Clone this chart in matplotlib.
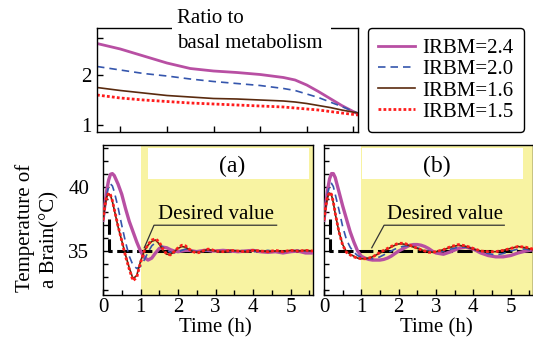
import matplotlib
matplotlib.use('Agg')
import matplotlib.pyplot as plt
from matplotlib.patches import Rectangle
from matplotlib.ticker import MultipleLocator, FixedLocator

plt.rcParams['font.family'] = ['Liberation Serif', 'DejaVu Serif']
plt.rcParams['font.size'] = 15

# ---------------- data ----------------
labels = ['IRBM=2.4', 'IRBM=2.0', 'IRBM=1.6', 'IRBM=1.5']

# top panel: ratio to basal metabolism
t_ratio = [0, 0.5, 1.0, 1.5, 2.0, 2.5, 3.0, 3.5, 4.0, 4.25, 4.5, 4.75, 5.0, 5.25, 5.6]
ratio_24 = [2.63, 2.52, 2.38, 2.24, 2.13, 2.08, 2.05, 2.01, 1.95, 1.90, 1.80, 1.67, 1.53, 1.39, 1.22]
ratio_20 = [2.17, 2.10, 2.03, 1.98, 1.92, 1.87, 1.83, 1.79, 1.73, 1.69, 1.62, 1.55, 1.46, 1.37, 1.24]
ratio_16 = [1.75, 1.69, 1.64, 1.59, 1.56, 1.53, 1.52, 1.50, 1.48, 1.46, 1.43, 1.39, 1.35, 1.30, 1.24]
ratio_15 = [1.60, 1.54, 1.50, 1.47, 1.44, 1.42, 1.40, 1.38, 1.36, 1.34, 1.32, 1.30, 1.27, 1.24, 1.20]

# bottom panels: brain temperature
t_temp = [0, .05, .1, .15, .2, .25, .3, .4, .5, .6, .7, .8, .9, 1.0, 1.1, 1.2, 1.3, 1.4, 1.5,
          1.6, 1.7, 1.8, 1.9, 2.0, 2.1, 2.2, 2.3, 2.4, 2.5, 2.6, 2.7, 2.8, 2.9, 3.0,
          3.2, 3.4, 3.6, 3.8, 4.0, 4.2, 4.4, 4.6, 4.8, 5.0, 5.2, 5.4, 5.6]

a_24 = [37.4, 38.6, 39.7, 40.5, 40.95, 41.0, 40.85, 40.2, 39.4, 38.3, 37.3, 36.5, 35.7, 35.0, 34.5, 34.3, 34.45, 34.85, 35.2,
        35.3, 35.25, 35.1, 35.0, 34.95, 35.0, 35.05, 35.05, 35.0, 34.95, 35.0, 35.05, 35.05, 35.0, 35.0,
        35.05, 35.0, 34.95, 35.0, 35.05, 34.95, 34.9, 34.95, 34.85, 34.95, 35.0, 34.85, 34.85]
a_20 = [37.4, 38.5, 39.4, 40.0, 40.2, 40.05, 39.6, 38.4, 37.0, 35.7, 34.6, 33.9, 33.65, 33.8, 34.3, 34.9, 35.4, 35.65, 35.55,
        35.3, 35.05, 34.9, 34.85, 34.9, 35.05, 35.15, 35.1, 35.0, 34.95, 34.95, 35.0, 35.05, 35.05, 35.0,
        34.95, 35.0, 35.05, 35.0, 34.95, 35.0, 35.05, 34.95, 34.95, 35.0, 35.05, 35.0, 35.0]
a_16 = [37.4, 38.5, 39.2, 39.45, 39.3, 38.85, 38.2, 36.9, 35.8, 34.7, 33.7, 32.85, 33.1, 34.2, 35.0, 35.45, 35.75, 35.85, 35.55,
        35.05, 34.75, 34.75, 34.95, 35.2, 35.35, 35.3, 35.1, 34.95, 34.9, 34.95, 35.05, 35.1, 35.05, 35.0,
        34.95, 35.05, 35.0, 34.95, 35.05, 35.0, 34.95, 35.0, 34.95, 35.05, 35.0, 35.05, 35.0]
a_15 = [37.4, 38.5, 39.2, 39.5, 39.35, 38.9, 38.25, 36.95, 35.8, 34.6, 33.6, 32.7, 32.95, 34.1, 35.0, 35.5, 35.85, 35.95, 35.7,
        35.15, 34.75, 34.7, 34.95, 35.25, 35.45, 35.4, 35.15, 34.95, 34.85, 34.9, 35.05, 35.15, 35.1, 35.0,
        34.95, 35.05, 35.0, 34.95, 35.05, 35.0, 34.95, 35.05, 34.95, 35.05, 35.0, 35.05, 35.0]

b_24 = [37.4, 38.7, 39.8, 40.6, 41.0, 41.0, 40.7, 39.6, 38.5, 37.5, 36.5, 35.7, 35.0, 34.6, 34.45, 34.35, 34.3, 34.3, 34.3,
        34.35, 34.45, 34.6, 34.8, 35.0, 35.15, 35.3, 35.45, 35.5, 35.5, 35.45, 35.35, 35.2, 35.0, 34.85,
        34.75, 34.95, 35.2, 35.3, 35.15, 34.85, 34.65, 34.55, 34.55, 34.65, 34.85, 35.0, 35.1]
b_20 = [37.4, 38.5, 39.5, 40.1, 40.25, 40.0, 39.4, 38.2, 36.9, 35.9, 35.3, 34.9, 34.65, 34.5, 34.45, 34.4, 34.4, 34.45, 34.55,
        34.7, 34.85, 35.0, 35.15, 35.25, 35.35, 35.4, 35.4, 35.35, 35.25, 35.15, 35.05, 35.0, 34.95, 34.95,
        35.0, 35.15, 35.3, 35.3, 35.15, 34.95, 34.8, 34.7, 34.8, 35.0, 35.15, 35.15, 35.05]
b_16 = [37.4, 38.5, 39.2, 39.5, 39.35, 38.75, 37.9, 36.5, 35.5, 34.95, 34.75, 34.6, 34.45, 34.4, 34.4, 34.45, 34.55, 34.7, 34.85,
        35.0, 35.15, 35.3, 35.45, 35.55, 35.55, 35.5, 35.4, 35.3, 35.2, 35.1, 35.0, 34.95, 34.9, 34.95,
        35.1, 35.3, 35.45, 35.35, 35.15, 35.0, 34.95, 34.95, 35.05, 35.2, 35.35, 35.25, 35.1]
b_15 = [37.4, 38.5, 39.25, 39.55, 39.4, 38.8, 37.95, 36.5, 35.45, 34.9, 34.7, 34.55, 34.45, 34.4, 34.4, 34.45, 34.55, 34.7, 34.9,
        35.05, 35.2, 35.35, 35.5, 35.6, 35.6, 35.55, 35.45, 35.35, 35.2, 35.1, 35.0, 34.9, 34.9, 34.95,
        35.1, 35.35, 35.5, 35.4, 35.2, 35.0, 34.95, 34.95, 35.05, 35.2, 35.35, 35.3, 35.15]

# desired value trajectory
t_desired = [0.17, 0.17, 5.6]
T_desired = [37.5, 35.0, 35.0]

# ---------------- styles ----------------
colors = ['#b84fa3', '#3556ad', '#5a2a0e', '#ff1c1c']
styles = [dict(color=colors[0], lw=2.0, ls='-'),
          dict(color=colors[1], lw=1.2, ls=(0, (4.5, 3))),
          dict(color=colors[2], lw=1.2, ls='-'),
          dict(color=colors[3], lw=2.0, ls=(0, (1, 0.8)))]
yellow = '#f8f3a2'

W, H = 533, 341
fig = plt.figure(figsize=(W / 100, H / 100), dpi=100)


def px_axes(x0, y0, x1, y1):
    return fig.add_axes([x0 / W, 1 - y1 / H, (x1 - x0) / W, (y1 - y0) / H])


# ---------------- top panel ----------------
ax_t = px_axes(97, 28.3, 358, 132.3)
handles = []
for ys, st, lab in zip([ratio_24, ratio_20, ratio_16, ratio_15], styles, labels):
    h, = ax_t.plot(t_ratio, ys, label=lab, **st)
    handles.append(h)
ax_t.set_xlim(0, 5.6)
ax_t.set_ylim(0.854, 2.934)
ax_t.set_xticks([0.5, 1.5, 2.5, 3.5, 4.5, 5.5])
ax_t.set_xticklabels([])
ax_t.set_yticks([1, 2, 2.73])
ax_t.set_yticklabels(['1', '2', ''])
ax_t.tick_params(direction='in', length=4, width=1, pad=4)
for s in ax_t.spines.values():
    s.set_linewidth(1.0)

# white box + title text overlapping top spine
fig.patches.append(Rectangle((172 / W, 1 - 56 / H), (331 - 172) / W, 56 / H,
                             transform=fig.transFigure, facecolor='white',
                             edgecolor='none', zorder=2))
fig.text(177 / W, 1 - 23.3 / H, 'Ratio to', ha='left', va='baseline', fontsize=15, zorder=3)
fig.text(177 / W, 1 - 48.3 / H, 'basal metabolism', ha='left', va='baseline', fontsize=15, zorder=3)

# legend
leg = fig.legend(handles, labels, loc='upper left', bbox_to_anchor=(368 / W, 1 - 28 / H),
                 borderaxespad=0, fontsize=15, handlelength=1.75, handletextpad=0.35,
                 labelspacing=0.08, borderpad=0.5, frameon=True, fancybox=True)
leg.get_frame().set_edgecolor('black')
leg.get_frame().set_linewidth(1.0)
leg.get_frame().set_alpha(1)


# ---------------- bottom panels ----------------
def temp_panel(ax, series, tag, tag_x, box_x0, box_x1, ann_pt, ann_knee, ann_end, txt_x):
    ax.axvspan(1.0, 5.6, color=yellow, zorder=0, lw=0)
    ax.add_patch(Rectangle((box_x0, 40.56), box_x1 - box_x0, 42.96 - 40.56,
                           facecolor='white', edgecolor='none', zorder=1))
    ax.text(tag_x, 41.55, tag, ha='center', va='center', fontsize=17, zorder=2)
    ax.plot(t_desired, T_desired, color='black', lw=2.2, ls=(0, (5, 1.5)), zorder=2)
    for ys, st in zip(series, styles):
        st2 = dict(st)
        if st2['color'] == colors[0]:
            st2['lw'] = 2.4
        if st2['color'] == colors[3]:
            st2['lw'] = 2.0
        ax.plot(t_temp, ys, zorder=3, **st2)
    ax.plot([ann_pt[0], ann_knee[0], ann_end], [ann_pt[1], ann_knee[1], ann_knee[1]],
            color='#333333', lw=0.9, zorder=4)
    ax.text(txt_x, 37.5, 'Desired value', ha='left', va='baseline', fontsize=15, zorder=4)
    ax.set_xlim(0, 5.6)
    ax.set_ylim(31.59, 43.22)
    ax.xaxis.set_major_locator(FixedLocator([0, 1, 2, 3, 4, 5]))
    ax.xaxis.set_minor_locator(MultipleLocator(0.5))
    ax.yaxis.set_major_locator(FixedLocator([35, 40]))
    ax.yaxis.set_minor_locator(MultipleLocator(1))
    ax.tick_params(which='both', direction='in', width=1)
    ax.tick_params(which='major', length=4)
    ax.tick_params(which='minor', length=3.5)
    ax.tick_params(axis='x', pad=2)
    ax.tick_params(axis='y', pad=10)
    ax.text(3.0, -0.22, 'Time (h)', transform=ax.get_xaxis_transform(),
            ha='center', va='center', fontsize=15)
    for s in ax.spines.values():
        s.set_linewidth(1.0)


ax_a = px_axes(103, 145, 313, 295)
temp_panel(ax_a, [a_24, a_20, a_16, a_15], '(a)', 3.45, 1.21, 5.5,
           (1.1, 35.25), (1.36, 37.0), 4.63, 1.47)

ax_b = px_axes(324, 145, 533, 295)
temp_panel(ax_b, [b_24, b_20, b_16, b_15], '(b)', 3.02, 1.01, 5.34,
           (1.28, 35.25), (1.61, 37.0), 4.83, 1.70)
ax_b.set_yticklabels([])

# y label (two columns, rotated)
fig.text(25 / W, 1 - 292 / H, 'Temperature of', rotation=90, ha='center', va='bottom', fontsize=15)
fig.text(50 / W, 1 - 288 / H, 'a Brain(°C)', rotation=90, ha='center', va='bottom', fontsize=15)

fig.savefig('out.png', dpi=100)
